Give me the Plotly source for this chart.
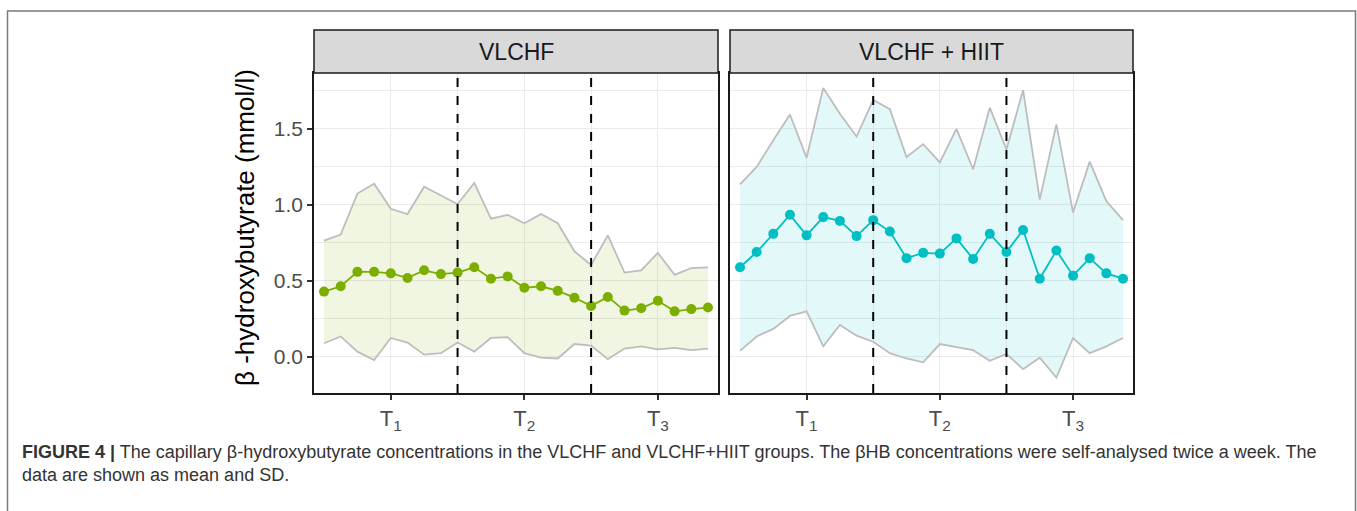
import plotly.graph_objects as go

# measurement occasions (twice a week, 24 per group)
weeks = list(range(24))
tick_pos = [4, 12, 20]
tick_text = ["T<sub>1</sub>", "T<sub>2</sub>", "T<sub>3</sub>"]
period_breaks = [8, 16]

vlchf_mean = [0.43, 0.465, 0.56, 0.56, 0.55, 0.52, 0.57, 0.545, 0.555, 0.59, 0.515, 0.53,
              0.455, 0.465, 0.435, 0.39, 0.335, 0.395, 0.305, 0.32, 0.37, 0.30, 0.315, 0.325]
vlchf_upper = [0.765, 0.805, 1.075, 1.14, 0.975, 0.94, 1.12, 1.065, 1.005, 1.145, 0.91, 0.935,
               0.88, 0.94, 0.88, 0.695, 0.605, 0.80, 0.555, 0.57, 0.685, 0.54, 0.585, 0.59]
vlchf_lower = [0.09, 0.135, 0.035, -0.02, 0.125, 0.095, 0.015, 0.025, 0.095, 0.035, 0.125, 0.13,
               0.025, -0.005, -0.01, 0.085, 0.075, -0.015, 0.055, 0.07, 0.05, 0.06, 0.045, 0.055]

hiit_mean = [0.59, 0.69, 0.81, 0.935, 0.80, 0.92, 0.895, 0.795, 0.90, 0.825, 0.65, 0.685,
             0.68, 0.78, 0.645, 0.81, 0.69, 0.835, 0.515, 0.70, 0.535, 0.65, 0.55, 0.515]
hiit_upper = [1.135, 1.25, 1.425, 1.595, 1.31, 1.77, 1.60, 1.45, 1.69, 1.63, 1.315, 1.40,
              1.28, 1.50, 1.235, 1.64, 1.365, 1.755, 1.035, 1.53, 0.95, 1.285, 1.025, 0.90]
hiit_lower = [0.04, 0.135, 0.185, 0.27, 0.30, 0.07, 0.21, 0.14, 0.10, 0.025, -0.01, -0.035,
              0.085, 0.065, 0.045, -0.025, 0.02, -0.08, -0.005, -0.135, 0.125, 0.025, 0.07, 0.125]

groups = ["VLCHF", "VLCHF + HIIT"]
colors = ["#7CAE00", "#00BFC4"]
fills = ["rgba(124,174,0,0.11)", "rgba(0,191,196,0.11)"]

W, H = 1357, 511
panels_px = [(314, 718), (730, 1133)]
top_px, strip_top_px, bottom_px = 73, 30, 393
FONT = "Liberation Sans, Arial"


def px_x(v):
    return v / W


def px_y(v):
    return 1 - v / H


fig = go.Figure()
data = [(vlchf_mean, vlchf_upper, vlchf_lower), (hiit_mean, hiit_upper, hiit_lower)]
for i, (mean, upper, lower) in enumerate(data):
    xa = "x" if i == 0 else "x2"
    ya = "y" if i == 0 else "y2"
    fig.add_trace(go.Scatter(x=weeks, y=lower, mode="lines", line=dict(color="#BDBDBD", width=1.8),
                             xaxis=xa, yaxis=ya, showlegend=False, hoverinfo="skip"))
    fig.add_trace(go.Scatter(x=weeks, y=upper, mode="lines", line=dict(color="#BDBDBD", width=1.8),
                             fill="tonexty", fillcolor=fills[i],
                             xaxis=xa, yaxis=ya, showlegend=False, hoverinfo="skip"))
    fig.add_trace(go.Scatter(x=weeks, y=mean, mode="lines+markers",
                             line=dict(color=colors[i], width=1.8),
                             marker=dict(color=colors[i], size=10),
                             xaxis=xa, yaxis=ya, showlegend=False))
    for b in period_breaks:
        fig.add_shape(type="line", xref=xa, yref=ya + " domain", x0=b, x1=b, y0=0, y1=1,
                      line=dict(color="black", width=2, dash="dash"), layer="above")
    # facet strip
    l, r = panels_px[i]
    fig.add_shape(type="rect", xref="paper", yref="paper",
                  x0=px_x(l), x1=px_x(r), y0=px_y(top_px), y1=px_y(strip_top_px),
                  fillcolor="#D9D9D9", line=dict(color="#1A1A1A", width=1.5))
    fig.add_annotation(text=groups[i], xref="paper", yref="paper",
                       x=px_x((l + r) / 2), y=px_y((top_px + strip_top_px) / 2),
                       xanchor="center", yanchor="middle",
                       showarrow=False, font=dict(size=23, color="#1A1A1A", family=FONT))

axis_common = dict(showline=True, linecolor="#1A1A1A", linewidth=1.5, mirror=True,
                   ticks="outside", ticklen=5, tickcolor="#333333", tickwidth=1.5,
                   zeroline=False, gridcolor="#EBEBEB", gridwidth=1.3)
for i, name in enumerate(["xaxis", "xaxis2"]):
    l, r = panels_px[i]
    fig.update_layout({name: dict(axis_common, domain=[px_x(l), px_x(r)], range=[-0.6, 23.6],
                                  tickvals=tick_pos, ticktext=tick_text,
                                  tickfont=dict(size=22, color="#4D4D4D", family=FONT),
                                  minor=dict(tickvals=period_breaks, showgrid=True,
                                             gridcolor="#EBEBEB", gridwidth=1, ticks=""),
                                  anchor="y" if i == 0 else "y2")})
for i, name in enumerate(["yaxis", "yaxis2"]):
    fig.update_layout({name: dict(axis_common, domain=[px_y(bottom_px), px_y(top_px)],
                                  range=[-0.237, 1.868], tickvals=[0, 0.5, 1.0, 1.5],
                                  tickformat=".1f", showticklabels=(i == 0),
                                  ticks="outside" if i == 0 else "",
                                  tickfont=dict(size=21, color="#4D4D4D", family=FONT),
                                  minor=dict(tickvals=[0.25, 0.75, 1.25, 1.75], showgrid=True,
                                             gridcolor="#EBEBEB", gridwidth=1, ticks=""),
                                  anchor="x" if i == 0 else "x2")})

fig.add_annotation(text="β -hydroxybutyrate (mmol/l)", xref="paper", yref="paper",
                   x=px_x(245), y=px_y(228), xanchor="center", yanchor="middle",
                   textangle=-90, showarrow=False,
                   font=dict(size=26, color="black", family=FONT))

# outer frame
fig.add_shape(type="rect", xref="paper", yref="paper", x0=px_x(7.5), x1=px_x(1355.5),
              y0=-0.05, y1=px_y(11), line=dict(color="#7A7A7A", width=1.5), layer="below")

fig.add_annotation(
    text="<b>FIGURE 4 |</b> The capillary β-hydroxybutyrate concentrations in the VLCHF and VLCHF+HIIT groups. "
         "The βHB concentrations were self-analysed twice a week. The<br>data are shown as mean and SD.",
    xref="paper", yref="paper", x=px_x(20), y=px_y(440), xanchor="left", yanchor="top",
    align="left", showarrow=False,
    font=dict(size=18, color="#333333", family=FONT))

fig.update_layout(width=W, height=H, margin=dict(l=0, r=0, t=0, b=0),
                  paper_bgcolor="white", plot_bgcolor="white",
                  font=dict(family=FONT))

fig.write_html("out.html", config={"displayModeBar": False},
               post_script="document.body.style.margin='0';")
